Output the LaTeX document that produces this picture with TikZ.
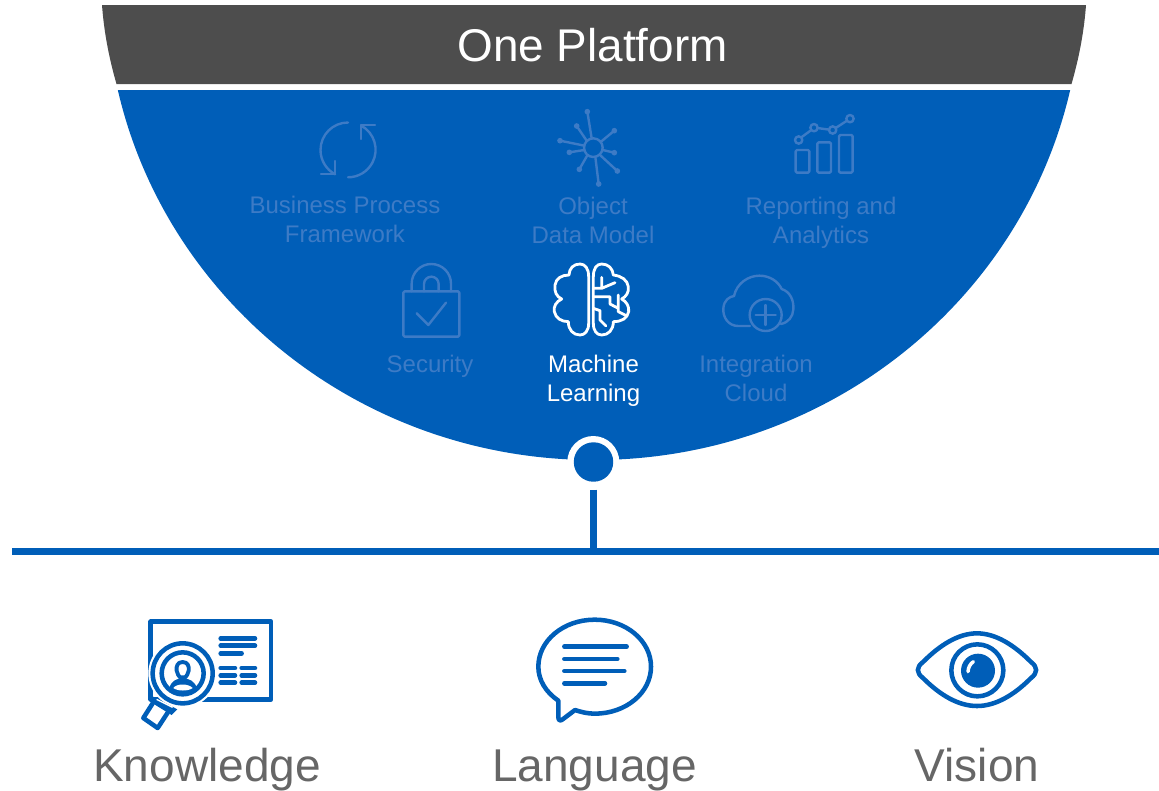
\documentclass[tikz,border=0pt]{standalone}
\usepackage{fontspec}
\setmainfont{Liberation Sans}
\definecolor{dishblue}{HTML}{005EB8}
\definecolor{fadeblue}{HTML}{3D7BC6}
\definecolor{topgrey}{HTML}{4D4D4D}
\definecolor{labelgrey}{HTML}{666666}
\tikzset{
  small label/.style={font=\fontsize{18}{21.8}\selectfont,align=center,inner sep=0pt},
  faded/.style={small label,text=fadeblue},
  bright/.style={small label,text=white},
  big label/.style={font=\fontsize{34.5}{40}\selectfont,inner sep=0pt,text=labelgrey,anchor=base},
  fadeicon/.style={draw=fadeblue,line width=1.8pt,line join=round,line cap=round},
  blueicon/.style={draw=dishblue,line width=3.4pt,line join=round,line cap=round},
  thinblue/.style={draw=dishblue,line width=3.4pt,line join=round,line cap=round},
  whiteicon/.style={draw=white,line width=2.1pt,line join=round,line cap=round},
  zoomA/.style={shift={(240,100)},scale=1/3},
  zoomB/.style={shift={(530,100)},scale=1/3},
  zoomC/.style={shift={(120,600)},scale=1/3},
  zoomD/.style={shift={(525,610)},scale=1/3},
  zoomE/.style={shift={(905,620)},scale=1/3},
}
\begin{document}
\begin{tikzpicture}[x=0.75pt,y=-0.75pt]
\useasboundingbox (0,0) rectangle (1159,790);
% dish
\fill[topgrey] (102,5) .. controls (104,32) and (109,58) .. (116.5,84) -- (1071.5,84) .. controls (1079,58) and (1084,32) .. (1086,5) -- cycle;
\begin{scope}
  \clip (594,-14.2) ellipse [x radius=488, y radius=474.2];
  \fill[dishblue] (90,89.5) rectangle (1100,480);
\end{scope}
\node[text=white,font=\fontsize{34.4}{40}\selectfont,inner sep=0pt] (title) at (592.5,45) {One Platform};
% hub and stem
\fill[white] (593.3,462) circle[radius=26];
\node[circle,fill=dishblue,inner sep=0pt,minimum size=29.6pt,outer sep=6pt] (hub) at (593.5,462) {};
\coordinate (barL) at (12,551.5);
\coordinate (barR) at (1159,551.5);
\draw[dishblue,line width=5.2pt] (barL) -- (barR);
\draw[dishblue,line width=5.2pt] (hub.south) -- (hub.south |- barL);
% cycle icon
\draw[fadeicon] (348,122.5) arc (-90:-242:27.5);
\draw[fadeicon] (361,125.5) arc (-62:90:27.5);
\draw[fadeicon] (321,174) -- (335,174) -- (335,161);
\draw[fadeicon] (375,125) -- (361,125) -- (361,139);
% object icon
\begin{scope}[zoomB]
  \draw[fadeicon] (190,143) circle[radius=28];
  \foreach \ex/\ey/\sx/\sy in {172/35/185/115, 140/78/170/122, 253/92/213/125, 90/122/163/137, 118/157/163/150, 253/158/218/150, 262/213/210/165, 148/208/172/166, 206/252/196/171}{
    \draw[fadeicon] (\sx,\sy) -- (\ex,\ey);
    \fill[fadeblue] (\ex,\ey) circle[radius=8.5];
  }
  % chart icon
  \draw[fadeicon] (806,120) circle[radius=11] (852,83) circle[radius=11] (908,90) circle[radius=11] (960,56) circle[radius=11];
  \draw[fadeicon] (814,112) -- (844,90) (862,84) -- (898,89) (917,84) -- (951,62);
  \draw[fadeicon,rounded corners=1pt] (797,150) rectangle (838,218);
  \draw[fadeicon,rounded corners=1pt] (862,127) rectangle (903,218);
  \draw[fadeicon,rounded corners=1pt] (927,105) rectangle (968,218);
  % cloud icon
  \draw[fadeicon] (660,678) -- (625,678) .. controls (595,678) and (578,652) .. (580,625) .. controls (582,600) and (598,590) .. (612,588) .. controls (620,550) and (655,527) .. (688,527) .. controls (720,527) and (745,545) .. (755,567) .. controls (780,575) and (792,600) .. (790,628) .. controls (789,650) and (775,668) .. (752,672);
  \draw[fadeicon] (707,645) circle[radius=48];
  \draw[fadeicon] (707,615) -- (707,675) (677,645) -- (737,645);
  % brain icon
  \draw[whiteicon] (176,530) .. controls (176,505) and (165,492) .. (150,492) .. controls (130,492) and (118,505) .. (117,525) .. controls (95,525) and (78,535) .. (75,555) .. controls (72,575) and (80,590) .. (95,597) .. controls (78,605) and (70,620) .. (73,635) .. controls (77,655) and (95,665) .. (115,665) .. controls (115,690) and (130,705) .. (150,705) .. controls (165,705) and (176,692) .. (176,670) -- cycle;
  \draw[whiteicon] (190,530) .. controls (190,505) and (200,492) .. (215,492) .. controls (235,492) and (248,505) .. (250,525) .. controls (275,528) and (292,540) .. (295,560) .. controls (297,578) and (288,590) .. (275,597) .. controls (290,605) and (298,620) .. (296,635) .. controls (292,655) and (275,665) .. (250,665) .. controls (250,690) and (235,705) .. (215,705) .. controls (200,705) and (190,692) .. (190,670) -- cycle;
  \draw[whiteicon] (190,565) -- (215,565) -- (215,532) (215,565) -- (255,548);
  \draw[whiteicon] (190,590) -- (240,590) -- (240,612) -- (265,625) (265,585) -- (265,635) -- (285,645);
  \draw[whiteicon] (190,625) -- (210,632) -- (210,660) -- (228,678);
\end{scope}
% lock icon
\begin{scope}[zoomA]
  \draw[fadeicon,rounded corners=1pt] (490,574) rectangle (658,710);
  \draw[fadeicon] (515,574) -- (515,551) arc (180:360:59) -- (633,574);
  \draw[fadeicon] (552,574) -- (552,552) arc (180:360:22) -- (596,574);
  \draw[fadeicon] (530,640) -- (565,675) -- (618,608);
\end{scope}
% labels
\node[faded] (bpf) at (345,222.2) {\strut Business Process\\\strut Framework};
\node[faded] (odm) at (593,223) {\strut Object\\\strut Data Model};
\node[faded] (rep) at (821,223) {\strut Reporting and\\\strut Analytics};
\node[faded] (sec) at (430,366.2) {\strut Security};
\node[bright] (ml) at (593.5,381) {\strut Machine\\\strut Learning};
\node[faded] (ic) at (756,381) {\strut Integration\\\strut Cloud};
\node[big label] (kn) at (207,781) {Knowledge};
\node[big label] (la) at (594.5,781) {Language};
\node[big label] (vi) at (977,781) {Vision};
% knowledge icon
\begin{scope}[zoomC]
  \draw[blueicon] (92,65) rectangle (453,298);
  \foreach \a/\b/\c in {302/405/115, 302/405/137, 302/365/160, 302/345/204, 365/405/204, 302/345/226, 365/405/226, 302/345/248, 365/405/248}
    \draw[blueicon] (\a,\c) -- (\b,\c);
  \fill[white] (188,220) circle[radius=103];
  \draw[blueicon] (188,220) circle[radius=90];
  \draw[blueicon] (188,220) circle[radius=63];
  \draw[thinblue,line width=2.9pt] (188,186) .. controls (172,186) and (168,200) .. (170,212) .. controls (172,222) and (176,228) .. (180,232) -- (196,232) .. controls (200,228) and (204,222) .. (206,212) .. controls (208,200) and (204,186) .. (188,186) -- cycle;
  \fill[dishblue] (148,262) .. controls (155,242) and (170,238) .. (178,236) -- (198,236) .. controls (208,238) and (222,242) .. (230,262) .. controls (215,282) and (165,282) .. (148,262) -- cycle;
  \fill[white] (160,264) .. controls (170,250) and (205,250) .. (218,264) .. controls (205,274) and (172,274) .. (160,264) -- cycle;
  \draw[blueicon] (98,310) -- (70,354) -- (113,384) -- (143,338);
  \fill[dishblue] (100,290) -- (172,328) -- (155,345) -- (90,305) -- cycle;
  \draw[white,line width=1pt] (110,298) -- (158,322);
\end{scope}
% language icon
\begin{scope}[zoomD]
  \draw[thinblue] (100,272) .. controls (62,246) and (40,210) .. (40,170) .. controls (40,92) and (115,29) .. (209,29) .. controls (303,29) and (378,92) .. (378,170) .. controls (378,248) and (303,311) .. (209,311) .. controls (188,311) and (168,306) .. (150,300) -- (113,328) .. controls (106,334) and (100,331) .. (100,322) -- cycle;
  \foreach \b/\c in {305/110, 277/147, 298/183, 240/220}
    \draw[thinblue] (118,\c) -- (\b,\c);
\end{scope}
% vision icon
\begin{scope}[zoomE]
  \draw[thinblue] (55,125) .. controls (105,75) and (160,40) .. (216,40) .. controls (272,40) and (327,75) .. (377,125) .. controls (399,142) and (399,158) .. (377,175) .. controls (327,225) and (272,258) .. (216,258) .. controls (160,258) and (105,225) .. (55,175) .. controls (33,158) and (33,142) .. (55,125) -- cycle;
  \draw[thinblue] (217,151) circle[radius=78];
  \fill[dishblue] (219,152) circle[radius=51];
  \draw[white,line width=2.6pt,line cap=round] (189,155) .. controls (190,142) and (195,132) .. (205,125);
\end{scope}
\end{tikzpicture}
\end{document}
